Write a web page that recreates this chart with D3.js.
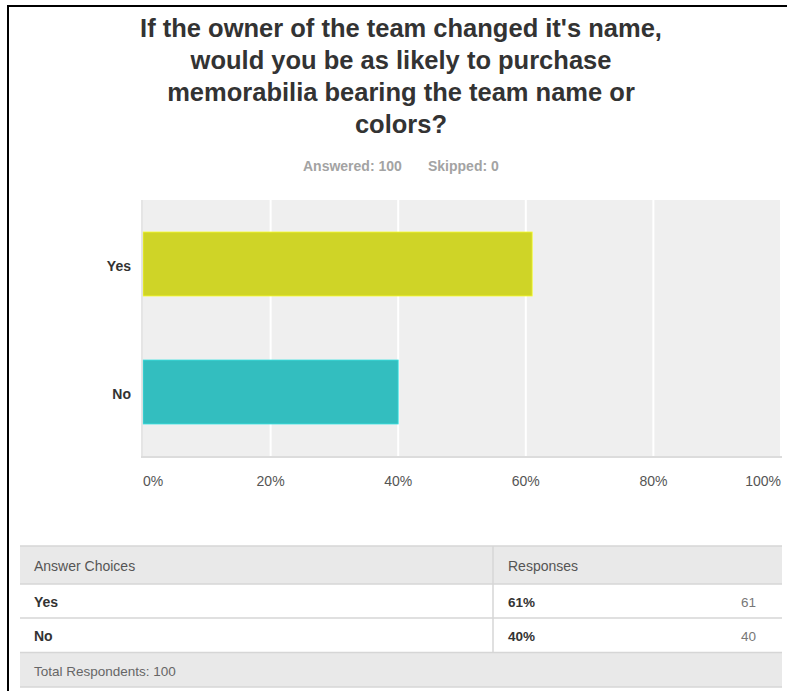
<!DOCTYPE html>
<html>
<head>
<meta charset="utf-8">
<script src="https://cdn.jsdelivr.net/npm/d3@7"></script>
<style>
  html, body { margin: 0; padding: 0; background: #fff; }
  svg { display: block; font-family: "Liberation Sans", Arial, Helvetica, sans-serif; }
</style>
</head>
<body>
<svg id="chart" width="787" height="691"></svg>
<script>
// Survey question and summary figures
const titleLines = [
  "If the owner of the team changed it's name,",
  "would you be as likely to purchase",
  "memorabilia bearing the team name or",
  "colors?"
];
const answered = 100;
const skipped = 0;

// Answer choices and their results
const categories = ["Yes", "No"];
const percentValues = [61, 40];
const responseCounts = [61, 40];
const barColors = ["#cfd427", "#33bebf"];
const xTicks = [0, 20, 40, 60, 80, 100];
const totalRespondents = 100;

const svg = d3.select("#chart");
const W = 787, H = 691;

// Frame lines (top and left)
svg.append("rect").attr("x", 7).attr("y", 5).attr("width", W - 7).attr("height", 2).attr("fill", "#000");
svg.append("rect").attr("x", 7).attr("y", 5).attr("width", 2).attr("height", H - 5).attr("fill", "#000");

// Title
const cx = 401;
svg.append("g").selectAll("text").data(titleLines).join("text")
  .attr("x", cx)
  .attr("y", (d, i) => 37 + i * 32)
  .attr("text-anchor", "middle")
  .attr("font-size", 25.5)
  .attr("font-weight", "bold")
  .attr("fill", "#333")
  .text(d => d);

// Answered / skipped line
svg.append("text").attr("x", 303).attr("y", 171)
  .attr("font-size", 14).attr("font-weight", "bold").attr("fill", "#a3a3a3")
  .text("Answered: " + answered);
svg.append("text").attr("x", 428).attr("y", 171)
  .attr("font-size", 14).attr("font-weight", "bold").attr("fill", "#a3a3a3")
  .text("Skipped: " + skipped);

// Bar chart
const plot = { left: 143, right: 781, top: 200, bottom: 456 };
const x = d3.scaleLinear().domain([0, 100]).range([plot.left, plot.right]);
const y = d3.scaleBand().domain(categories).range([plot.top, plot.bottom])
  .paddingInner(0.5).paddingOuter(0.25);

svg.append("rect")
  .attr("x", plot.left).attr("y", plot.top)
  .attr("width", plot.right - plot.left).attr("height", plot.bottom - plot.top)
  .attr("fill", "#efefef");

// Vertical gridlines
svg.append("g").selectAll("line").data(xTicks.filter(t => t > 0)).join("line")
  .attr("x1", d => x(d)).attr("x2", d => x(d))
  .attr("y1", plot.top).attr("y2", plot.bottom)
  .attr("stroke", "#fff").attr("stroke-width", 2);

// Bars
const rows = categories.map((c, i) => ({ cat: c, pct: percentValues[i], n: responseCounts[i], color: barColors[i] }));
svg.append("g").selectAll("rect").data(rows).join("rect")
  .attr("x", x(0))
  .attr("y", d => y(d.cat))
  .attr("width", d => x(d.pct) - x(0))
  .attr("height", y.bandwidth())
  .attr("fill", d => d.color)
  .attr("stroke", d => d3.color(d.color).brighter(0.5))
  .attr("stroke-width", 0.8);

// Axis lines
svg.append("line").attr("x1", plot.left - 1).attr("x2", plot.left - 1)
  .attr("y1", plot.top).attr("y2", plot.bottom + 2)
  .attr("stroke", "#dcdcdc").attr("stroke-width", 1.5);
svg.append("line").attr("x1", plot.left - 2).attr("x2", plot.right + 1)
  .attr("y1", plot.bottom + 1).attr("y2", plot.bottom + 1)
  .attr("stroke", "#dcdcdc").attr("stroke-width", 2);

// Category labels
svg.append("g").selectAll("text").data(categories).join("text")
  .attr("x", 131)
  .attr("y", d => y(d) + y.bandwidth() / 2 + 7)
  .attr("text-anchor", "end")
  .attr("font-size", 14).attr("font-weight", "bold").attr("fill", "#333")
  .text(d => d);

// X tick labels
svg.append("g").selectAll("text").data(xTicks).join("text")
  .attr("x", d => x(d))
  .attr("y", 486)
  .attr("text-anchor", (d, i) => i === 0 ? "start" : (i === xTicks.length - 1 ? "end" : "middle"))
  .attr("font-size", 14).attr("fill", "#555")
  .text(d => d + "%");

// Summary table
const tbl = { left: 20, right: 782, divider: 493 };
const rowEdges = [546, 584, 618, 652.5, 687];
const table = svg.append("g");

table.append("rect").attr("x", tbl.left).attr("y", rowEdges[0])
  .attr("width", tbl.right - tbl.left).attr("height", rowEdges[1] - rowEdges[0]).attr("fill", "#e9e9e9");
table.append("rect").attr("x", tbl.left).attr("y", rowEdges[3])
  .attr("width", tbl.right - tbl.left).attr("height", rowEdges[4] - rowEdges[3]).attr("fill", "#e9e9e9");

table.selectAll("line.h").data(rowEdges).join("line").attr("class", "h")
  .attr("x1", tbl.left).attr("x2", tbl.right)
  .attr("y1", d => d).attr("y2", d => d)
  .attr("stroke", "#d6d6d6").attr("stroke-width", 1.5);
table.append("line")
  .attr("x1", tbl.divider).attr("x2", tbl.divider)
  .attr("y1", rowEdges[0]).attr("y2", rowEdges[3])
  .attr("stroke", "#d6d6d6").attr("stroke-width", 1.5);

// Header
table.append("text").attr("x", 34).attr("y", 571)
  .attr("font-size", 14).attr("fill", "#555").text("Answer Choices");
table.append("text").attr("x", 508).attr("y", 571)
  .attr("font-size", 14).attr("fill", "#555").text("Responses");

// Data rows
const rowG = table.selectAll("g.row").data(rows).join("g").attr("class", "row")
  .attr("transform", (d, i) => `translate(0,${(rowEdges[i + 1] + rowEdges[i + 2]) / 2 + 6})`);
rowG.append("text").attr("x", 34).attr("font-size", 14).attr("font-weight", "bold").attr("fill", "#333")
  .text(d => d.cat);
rowG.append("text").attr("x", 508).attr("font-size", 13.5).attr("font-weight", "bold").attr("fill", "#333")
  .text(d => d.pct + "%");
rowG.append("text").attr("x", 756).attr("text-anchor", "end").attr("font-size", 13.5).attr("fill", "#777")
  .text(d => d.n);

// Total row
table.append("text").attr("x", 34).attr("y", 676)
  .attr("font-size", 13.5).attr("fill", "#666").text("Total Respondents: " + totalRespondents);
</script>
</body>
</html>
